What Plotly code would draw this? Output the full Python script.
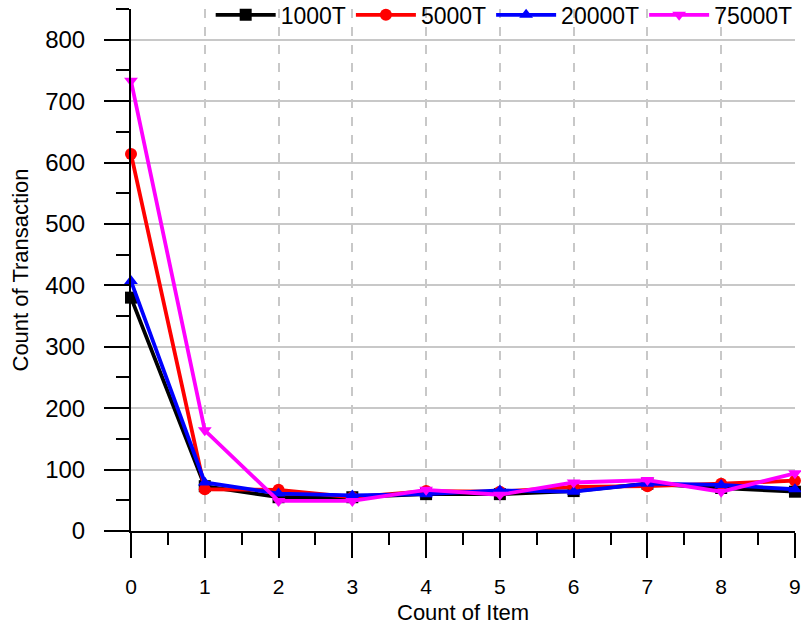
import plotly.graph_objects as go

x_items = [0, 1, 2, 3, 4, 5, 6, 7, 8, 9]
t1000 = [380, 73, 55, 55, 60, 60, 65, 77, 70, 64]
t5000 = [614, 68, 67, 55, 65, 64, 72, 73, 77, 82]
t20000 = [407, 79, 61, 58, 60, 66, 64, 77, 75, 68]
t75000 = [733, 164, 49, 49, 67, 59, 79, 83, 64, 94]

series = [
    ("1000T", t1000, "#000000", "square"),
    ("5000T", t5000, "#ff0000", "circle"),
    ("20000T", t20000, "#0000ff", "triangle-up"),
    ("75000T", t75000, "#ff00ff", "triangle-down"),
]

fig = go.Figure()
for name, vals, col, sym in series:
    fig.add_trace(go.Scatter(
        x=x_items, y=vals, name=name, mode="lines+markers",
        line=dict(color=col, width=3.8),
        marker=dict(symbol=sym, size=12, color=col),
        cliponaxis=False,
    ))

font_family = "Liberation Sans, Arial, sans-serif"
fig.update_layout(
    width=801, height=626,
    margin=dict(l=131, r=6, t=9, b=95, autoexpand=False),
    paper_bgcolor="white", plot_bgcolor="white",
    font=dict(family=font_family, size=22, color="black"),
    showlegend=True,
    legend=dict(orientation="h", x=0.12, y=1.03, xanchor="left", yanchor="top",
                bgcolor="rgba(0,0,0,0)", font=dict(size=23), itemwidth=60,
                tracegroupgap=0),
    xaxis=dict(
        range=[0, 9.0005], tickmode="linear", tick0=0, dtick=1,
        showline=True, linecolor="black", linewidth=2,
        ticks="outside", ticklen=25, tickwidth=2, tickcolor="black",
        showgrid=True, gridcolor="#c8c8c8", gridwidth=1.5, griddash="dash",
        zeroline=False, automargin=False,
        minor=dict(dtick=0.5, ticks="outside", ticklen=12, tickwidth=2, tickcolor="black", showgrid=False),
        tickfont=dict(size=21),
        ticklabelstandoff=11,
    ),
    yaxis=dict(
        range=[0, 850], tickmode="linear", tick0=0, dtick=100,
        showline=True, linecolor="black", linewidth=2,
        ticks="outside", ticklen=25, tickwidth=2, tickcolor="black",
        showgrid=True, gridcolor="#c8c8c8", gridwidth=1.5,
        zeroline=False, automargin=False,
        minor=dict(dtick=50, ticks="outside", ticklen=13, tickwidth=2, tickcolor="black", showgrid=False),
        title=dict(text="Count of Transaction", font=dict(size=22), standoff=10),
        tickfont=dict(size=24),
        ticklabelstandoff=14,
    ),
    annotations=[dict(
        text="Count of Item", xref="paper", yref="paper", x=0.5, y=-0.156,
        xanchor="center", yanchor="middle", showarrow=False, font=dict(size=22),
    )],
)

fig.write_html("out.html")
